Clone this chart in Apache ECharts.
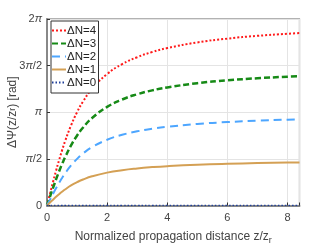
<!DOCTYPE html>
<html><head><meta charset="utf-8">
<script src="https://cdn.jsdelivr.net/npm/echarts@6/dist/echarts.min.js"></script>
<style>html,body{margin:0;padding:0;background:#fff}#c{width:332px;height:249px}</style>
</head><body><div id="c"></div>
<script>
var zValues = [0,0.1,0.2,0.3,0.4,0.5,0.6,0.8,1.0,1.2,1.5,2,2.5,3,3.5,4,5,6,7,8,8.4];
var dN4 = [0,0.399,0.790,1.166,1.522,1.854,2.162,2.699,3.142,3.504,3.931,4.428,4.761,4.996,5.170,5.303,5.494,5.622,5.716,5.786,5.809];
var dN3 = [0,0.299,0.592,0.875,1.142,1.391,1.621,2.024,2.356,2.628,2.948,3.321,3.571,3.747,3.878,3.977,4.120,4.217,4.287,4.339,4.357];
var dN2 = [0,0.199,0.395,0.583,0.761,0.927,1.081,1.349,1.571,1.752,1.966,2.214,2.381,2.498,2.585,2.652,2.747,2.811,2.858,2.893,2.904];
var dN1 = [0,0.100,0.197,0.292,0.381,0.464,0.540,0.675,0.785,0.876,0.983,1.107,1.190,1.249,1.293,1.326,1.373,1.406,1.429,1.446,1.452];
var dN0 = [0,0,0,0,0,0,0,0,0,0,0,0,0,0,0,0,0,0,0,0,0];
var xTicks = [0,2,4,6,8];
var yTickLabels = ['0','{i|π}/2','{i|π}','3{i|π}/2','2{i|π}'];
var seriesNames = ['ΔN=4','ΔN=3','ΔN=2','ΔN=1','ΔN=0'];

function pairs(v){ return zValues.map(function(z,i){return [z,v[i]];}); }
var PI = Math.PI;
var chart = echarts.init(document.getElementById('c'), null, {renderer:'canvas'});
var font = 'Liberation Sans, Arial, sans-serif';
function mk(name, data, color, width, type){
  return {name:name, type:'line', data:pairs(data), smooth:true, showSymbol:false, symbol:'none',
    lineStyle:{color:color, width:width, type:type}, itemStyle:{color:color}, animation:false};
}
chart.setOption({
  animation:false,
  grid:{left:47, right:32.5, top:19, bottom:43.5, show:true, borderColor:'#666', borderWidth:1.2,
    containLabel:false, outerBoundsMode:'none'},
  graphic:[{type:'rect', left:50.5, top:20.5, z:100, silent:true,
    shape:{width:47.5, height:72}, style:{fill:'#fff', stroke:'#333', lineWidth:1}}],
  legend:{
    orient:'vertical', left:51, top:24.5, itemWidth:14, itemHeight:8, itemGap:1, z:101,
    data:seriesNames, padding:0,
    itemStyle:{opacity:0, borderWidth:0},
    textStyle:{fontFamily:font, fontSize:11.5, color:'#222', padding:[0,0,0,-4]}
  },
  xAxis:{type:'value', min:0, max:8.4, interval:2,
    name:'Normalized propagation distance z/z{sub|r}', nameLocation:'middle', nameGap:23,
    nameMoveOverlap:false,
    nameTextStyle:{fontFamily:font, fontSize:12, color:'#444', rich:{sub:{fontSize:9, color:'#444', fontFamily:font, padding:[8,0,0,0]}}},
    axisLine:{lineStyle:{color:'#888', width:2}}, axisTick:{inside:true, length:3, lineStyle:{color:'#333'}},
    axisLabel:{fontFamily:font, fontSize:11, color:'#444', margin:7,
      formatter:function(v){ return xTicks.indexOf(v)>=0 ? String(v) : ''; }},
    splitLine:{show:true, lineStyle:{color:'#e4e4e4', width:1}}
  },
  yAxis:{type:'value', min:0, max:2*PI, interval:PI/2,
    name:'ΔΨ(z/z{sub|r}) [rad]', nameLocation:'middle', nameGap:28, nameRotate:90,
    nameMoveOverlap:false,
    nameTextStyle:{fontFamily:font, fontSize:12, color:'#444', rich:{sub:{fontSize:9, color:'#444', fontFamily:font, padding:[0,0,0,0]}}},
    axisLine:{show:true, lineStyle:{color:'#888', width:2}}, axisTick:{show:true, inside:true, length:3, lineStyle:{color:'#333'}},
    axisLabel:{fontFamily:font, fontSize:11, color:'#444', margin:5,
      rich:{i:{fontStyle:'italic', fontFamily:font, fontSize:11, color:'#444'}},
      formatter:function(v){ var k=Math.round(v/(PI/2)); return yTickLabels[k]||''; }},
    splitLine:{show:true, lineStyle:{color:'#e4e4e4', width:1}}
  },
  series:[
    mk('ΔN=4', dN4, '#ff1a1a', 2, [2,2]),
    mk('ΔN=3', dN3, '#168a16', 2.5, [6,3]),
    mk('ΔN=2', dN2, '#4da6ff', 2, [8,5]),
    mk('ΔN=1', dN1, '#d4a054', 2, 'solid'),
    mk('ΔN=0', dN0, '#1f3f99', 1.5, [1.5,2])
  ]
});
</script></body></html>
